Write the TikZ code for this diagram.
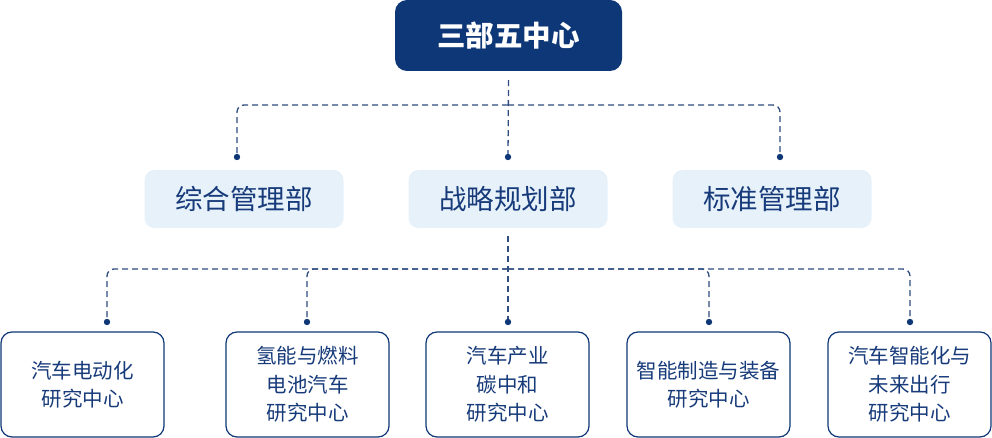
\documentclass[tikz,border=0pt]{standalone}
\usepackage{fontspec}
\setmainfont{Noto Sans CJK SC}
\definecolor{navy}{HTML}{0E3777}
\definecolor{inkblue}{HTML}{173B7A}
\definecolor{paleblue}{HTML}{E7F1FA}
\definecolor{dashblue}{HTML}{2E4C7E}
\begin{document}
\begin{tikzpicture}[x=1pt,y=-1pt]

    \tikzset{
      head/.style={
        fill=navy,
        rounded corners=12pt,
        minimum width=227pt,
        minimum height=71pt,
        text=white,
        font=\fontsize{28.5}{30}\selectfont\bfseries,
      },
      dept/.style={
        fill=paleblue,
        rounded corners=10pt,
        minimum width=199pt,
        minimum height=58pt,
        text=inkblue,
        font=\fontsize{27.5}{30}\selectfont,
      },
      centre/.style={
        draw=navy,
        line width=1.2pt,
        fill=white,
        rounded corners=11pt,
        minimum width=163pt,
        minimum height=105pt,
        text=inkblue,
        align=center,
        font=\fontsize{20.5}{28.5}\selectfont,
      },
      link/.style={
        dashblue,
        line width=1.3pt,
        dash pattern=on 6pt off 4pt,
        rounded corners=7pt,
      },
      point/.style={
        fill=navy,
      },
    }
    \useasboundingbox (0,0) rectangle (992,438);
	\node[head] (top) at (508.5,35.5) {三部五中心};
	\node[dept] (zonghe) at (244,199) {综合管理部};
	\node[dept] (zhanlue) at (508,199) {战略规划部};
	\node[dept] (biaozhun) at (772,199) {标准管理部};
	\node[centre] (dian) at (82.5,384.5) {汽车电动化\\研究中心};
	\node[centre] (qing) at (307.5,384.5) {氢能与燃料\\电池汽车\\研究中心};
	\node[centre] (tan) at (507.5,384.5) {汽车产业\\碳中和\\研究中心};
	\node[centre] (zhizao) at (708.5,384.5) {智能制造与装备\\研究中心};
	\node[centre] (weilai) at (909.5,384.5) {汽车智能化与\\未来出行\\研究中心};

	\coordinate (hubA) at (508,105);
	\coordinate (dotA1) at (237,157);
	\coordinate (dotA2) at (508,157);
	\coordinate (dotA3) at (780,157);
	\coordinate (hubB) at (508,269);
	\coordinate (dotB1) at (107,322);
	\coordinate (dotB2) at (307,322);
	\coordinate (dotB3) at (508,322);
	\coordinate (dotB4) at (709,322);
	\coordinate (dotB5) at (910,322);

	\draw[link] ([yshift=-9pt]top.south) -- (dotA2);
	\foreach \d in {dotA1,dotA3}
	  \draw[link] (hubA) -| (\d);
	\draw[link] ([yshift=-8pt]zhanlue.south) -- (dotB3);
	\foreach \d in {dotB1,dotB2,dotB4,dotB5}
	  \draw[link] (hubB) -| (\d);
	\foreach \d in {dotA1,dotA2,dotA3,dotB1,dotB2,dotB3,dotB4,dotB5}
	  \fill[point] (\d) circle (3.2pt);

\end{tikzpicture}
\end{document}
